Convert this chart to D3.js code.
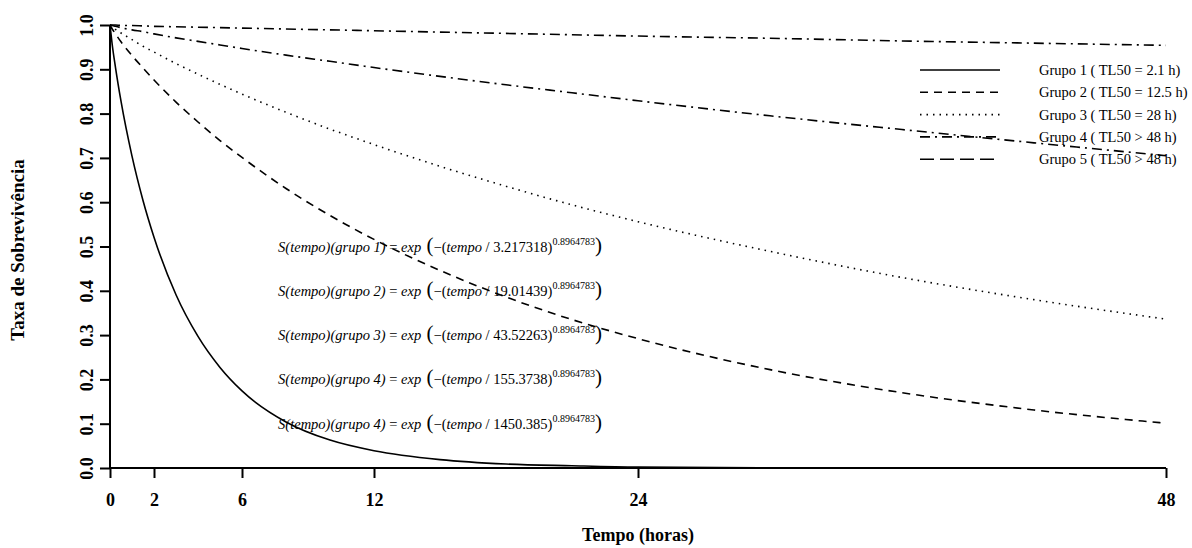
<!DOCTYPE html>
<html>
<head>
<meta charset="utf-8">
<script src="https://cdn.jsdelivr.net/npm/d3@7"></script>
<style>
  body { margin: 0; background: #fff; }
  svg text { font-family: "Liberation Serif", "Times New Roman", Times, serif !important; }
</style>
</head>
<body>
<div id="chart"></div>
<script>
// time grid (hours) and survival values
var tempo = [0, 0.1, 0.25, 0.5, 1, 1.5, 2, 3, 4, 5, 6, 8, 10, 12, 15, 18, 21, 24, 30, 36, 42, 48];
var grupo1 = [1, 0.956, 0.904, 0.828, 0.704, 0.604, 0.521, 0.391, 0.297, 0.227, 0.174, 0.104, 0.063, 0.039, 0.019, 0.009, 0.005, 0.002, 0.0006, 0.0002, 0.0001, 0];
var grupo2 = [1, 0.991, 0.980, 0.962, 0.931, 0.903, 0.876, 0.826, 0.781, 0.739, 0.701, 0.631, 0.570, 0.516, 0.446, 0.386, 0.335, 0.292, 0.222, 0.170, 0.131, 0.101];
var grupo3 = [1, 0.996, 0.990, 0.982, 0.967, 0.952, 0.939, 0.913, 0.889, 0.866, 0.844, 0.803, 0.765, 0.730, 0.681, 0.636, 0.594, 0.556, 0.489, 0.430, 0.380, 0.336];
var grupo4 = [1, 0.999, 0.997, 0.994, 0.989, 0.985, 0.980, 0.971, 0.963, 0.955, 0.947, 0.932, 0.918, 0.904, 0.884, 0.865, 0.847, 0.829, 0.795, 0.764, 0.734, 0.705];
var grupo5 = [1, 1.000, 1.000, 0.999, 0.999, 0.998, 0.997, 0.996, 0.995, 0.994, 0.993, 0.991, 0.989, 0.987, 0.984, 0.981, 0.978, 0.975, 0.970, 0.964, 0.959, 0.954];

var xTicks = [0, 2, 6, 12, 24, 48];
var yTicks = [0, 0.1, 0.2, 0.3, 0.4, 0.5, 0.6, 0.7, 0.8, 0.9, 1.0];

var legendLabels = ["Grupo 1 ( TL50 = 2.1 h)", "Grupo 2 ( TL50 = 12.5 h)", "Grupo 3 ( TL50 = 28 h)",
                    "Grupo 4 ( TL50 > 48 h)", "Grupo 5 ( TL50 > 48 h)"];
var formulaGroups = ["grupo 1", "grupo 2", "grupo 3", "grupo 4", "grupo 4"];
var formulaScales = ["3.217318", "19.01439", "43.52263", "155.3738", "1450.385"];
var formulaY = [0.5, 0.4, 0.3, 0.2, 0.1];
var shape = "0.8964783";

var width = 1192, height = 548;
var margin = {left: 110, right: 26, top: 25, bottom: 80};
var serif = "'Liberation Serif', 'Times New Roman', serif";

var svg = d3.select("#chart").append("svg")
    .attr("width", width).attr("height", height)
    .style("font-family", serif);

var x = d3.scaleLinear().domain([0, 48]).range([margin.left, width - margin.right]);
var y = d3.scaleLinear().domain([0, 1]).range([height - margin.bottom, margin.top]);

// axes (crossing at origin, R style)
var xAxis = svg.append("g")
    .attr("transform", "translate(0," + y(0) + ")")
    .call(d3.axisBottom(x).tickValues(xTicks).tickSize(10).tickPadding(15).tickFormat(d3.format("d")));
var yAxis = svg.append("g")
    .attr("transform", "translate(" + x(0) + ",0)")
    .call(d3.axisLeft(y).tickValues(yTicks).tickSize(10).tickPadding(0).tickFormat(d3.format(".1f")));

[xAxis, yAxis].forEach(function(a) {
  a.attr("font-family", null);
  a.select(".domain").attr("stroke-width", 2).attr("stroke", "#000");
  a.selectAll(".tick line").attr("stroke-width", 2).attr("stroke", "#000");
  a.selectAll("text")
    .attr("font-weight", "bold").attr("font-size", 18).attr("fill", "#000");
});
yAxis.select(".domain").attr("d", "M0," + y(0) + "V" + y(1));
xAxis.select(".domain").attr("d", "M" + x(0) + ",0H" + x(48));
yAxis.selectAll(".tick text")
    .attr("x", null)
    .attr("text-anchor", "middle")
    .attr("transform", "translate(-23,0) rotate(-90)")
    .attr("dy", "0.35em");

// axis titles
svg.append("text")
    .attr("x", x(24)).attr("y", 541)
    .attr("text-anchor", "middle").attr("font-weight", "bold").attr("font-size", 18)
    .text("Tempo (horas)");
svg.append("text")
    .attr("transform", "translate(24,250) rotate(-90)")
    .attr("text-anchor", "middle").attr("font-weight", "bold").attr("font-size", 19)
    .text("Taxa de Sobrevivência");

// curves
var series = [grupo1, grupo2, grupo3, grupo4, grupo5];
var plotDash = [null, "8,6", "1.5,5", "10,5,2,5", "10,5,2,5"];
var legendDash = [null, "8,6", "1.5,5", "10,5,2,5", "14,6"];

var line = d3.line()
    .x(function(d) { return x(d[0]); })
    .y(function(d) { return y(d[1]); })
    .curve(d3.curveMonotoneX);

svg.append("g").selectAll("path")
  .data(series)
  .enter().append("path")
    .attr("d", function(s) { return line(tempo.map(function(t, i) { return [t, s[i]]; })); })
    .attr("fill", "none")
    .attr("stroke", "#000")
    .attr("stroke-width", 1.6)
    .attr("stroke-dasharray", function(d, i) { return plotDash[i]; });

// formula labels
var fg = svg.append("g");
formulaScales.forEach(function(sc, i) {
  var t = fg.append("text")
      .attr("x", x(15)).attr("y", y(formulaY[i]) + 5)
      .attr("text-anchor", "middle").attr("font-size", 14.5);
  t.append("tspan").attr("font-style", "italic").text("S(tempo)(" + formulaGroups[i] + ")");
  t.append("tspan").text(" = ");
  t.append("tspan").attr("font-style", "italic").text("exp");
  t.append("tspan").attr("font-size", 21).text(" (");
  t.append("tspan").text("\u2212(");
  t.append("tspan").attr("font-style", "italic").text("tempo");
  t.append("tspan").text(" / " + sc + ")");
  t.append("tspan").attr("font-size", 10).attr("dy", -7).text(shape);
  t.append("tspan").attr("font-size", 21).attr("dy", 7).text(")");
});

// legend
var lg = svg.append("g");
legendLabels.forEach(function(lab, i) {
  var ly = 70 + i * 22.3;
  lg.append("line")
    .attr("x1", 920).attr("x2", 1000).attr("y1", ly).attr("y2", ly)
    .attr("stroke", "#000").attr("stroke-width", 1.6)
    .attr("stroke-dasharray", legendDash[i]);
  lg.append("text")
    .attr("x", 1039).attr("y", ly + 5)
    .attr("font-size", 14.5)
    .text(lab);
});
</script>
</body>
</html>
